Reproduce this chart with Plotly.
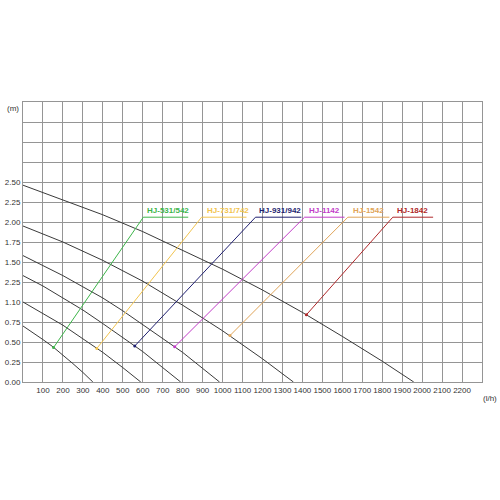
import plotly.graph_objects as go

# ---- pump curves (flow l/h -> head m) ----
c1_flow = [0, 50, 100, 150, 200, 250, 300, 350]
c1_head = [0.70, 0.62, 0.53, 0.44, 0.34, 0.23, 0.12, 0.0]

c2_flow = [0, 100, 200, 300, 400, 500, 590]
c2_head = [1.00, 0.86, 0.71, 0.54, 0.37, 0.18, 0.0]

c3_flow = [0, 100, 200, 300, 400, 500, 600, 700, 790]
c3_head = [1.33, 1.20, 1.05, 0.90, 0.73, 0.56, 0.38, 0.18, 0.0]

c4_flow = [0, 100, 200, 300, 400, 500, 600, 700, 800, 900, 985]
c4_head = [1.58, 1.46, 1.33, 1.19, 1.05, 0.89, 0.72, 0.55, 0.37, 0.17, 0.0]

c5_flow = [0, 200, 400, 600, 800, 1000, 1200, 1355]
c5_head = [1.95, 1.75, 1.52, 1.26, 0.96, 0.64, 0.29, 0.0]

c6_flow = [0, 200, 400, 600, 800, 1000, 1200, 1400, 1600, 1800, 1958]
c6_head = [2.46, 2.28, 2.09, 1.88, 1.65, 1.41, 1.15, 0.87, 0.57, 0.26, 0.0]

curves = [(c1_flow, c1_head), (c2_flow, c2_head), (c3_flow, c3_head),
          (c4_flow, c4_head), (c5_flow, c5_head), (c6_flow, c6_head)]

# ---- model labels and their leader lines ----
models = ["HJ-531/542", "HJ-731/742", "HJ-931/942", "HJ-1142", "HJ-1542", "HJ-1842"]
colors = ["#3db54a", "#f2c44e", "#1f1f70", "#c23cc8", "#e0a458", "#b0282a"]
point_flow = [153, 370, 560, 760, 1037, 1420]
point_head = [0.43, 0.42, 0.45, 0.44, 0.58, 0.84]
leader_top_flow = [603, 895, 1165, 1411, 1628, 1853]
underline_end_flow = [828, 1120, 1395, 1611, 1836, 2055]
leader_top_head = 2.06
label_flow = [611, 910, 1173, 1425, 1642, 1862]
label_head = 2.15

x_ticks = list(range(100, 2300, 100))
x_ticktext = [str(v) for v in x_ticks]
y_ticks = [0, 0.25, 0.5, 0.75, 1.0, 1.25, 1.5, 1.75, 2.0, 2.25, 2.5, 2.75, 3.0, 3.25]
y_ticktext = ["0.00", "0.25", "0.50", "0.75", "1.10", "2.25", "1.50", "1.75",
              "2.00", "2.25", "2.50", "", "", ""]

fig = go.Figure()

for fx, fy in curves:
    fig.add_trace(go.Scatter(x=fx, y=fy, mode="lines",
                             line=dict(color="#3a3a3a", width=1), hoverinfo="skip"))

for i, name in enumerate(models):
    fig.add_trace(go.Scatter(
        x=[point_flow[i], leader_top_flow[i], underline_end_flow[i]],
        y=[point_head[i], leader_top_head, leader_top_head],
        mode="lines", line=dict(color=colors[i], width=1), hoverinfo="skip"))
    fig.add_trace(go.Scatter(
        x=[point_flow[i]], y=[point_head[i]], mode="markers",
        marker=dict(color=colors[i], size=3), hoverinfo="skip"))
    fig.add_annotation(x=label_flow[i], y=label_head, xref="x", yref="y",
                       text="<b>" + name + "</b>", showarrow=False,
                       xanchor="left", yanchor="middle",
                       font=dict(size=8, color=colors[i],
                                 family="Arial, Liberation Sans, sans-serif"))

fig.add_annotation(x=-0.021, y=0.978, xref="paper", yref="paper", text="(m)",
                   showarrow=False, xanchor="center", yanchor="middle",
                   font=dict(size=8, color="#333333"))
fig.add_annotation(x=1.018, y=-0.058, xref="paper", yref="paper", text="(l/h)",
                   showarrow=False, xanchor="center", yanchor="middle",
                   font=dict(size=8, color="#333333"))

fig.update_layout(
    width=500, height=500,
    margin=dict(l=23, r=18, t=102, b=118),
    paper_bgcolor="white", plot_bgcolor="white",
    showlegend=False,
    font=dict(family="Arial, Liberation Sans, sans-serif", size=8, color="#333333"),
    xaxis=dict(range=[0, 2300], tickvals=x_ticks, ticktext=x_ticktext,
               tickangle=0, automargin=False,
               showgrid=True, gridcolor="#959595", gridwidth=1,
               showline=True, linecolor="#959595", linewidth=1, mirror=True,
               zeroline=False, ticks="", tickfont=dict(size=8, color="#333333")),
    yaxis=dict(range=[0, 3.5], tickvals=y_ticks, ticktext=y_ticktext,
               automargin=False,
               showgrid=True, gridcolor="#959595", gridwidth=1,
               showline=True, linecolor="#959595", linewidth=1, mirror=True,
               zeroline=False, ticks="", tickfont=dict(size=8, color="#333333")),
)

fig.write_html("out.html",
               config={"displayModeBar": False},
               post_script="document.body.style.margin='0px';"
                           "document.body.style.overflow='hidden';")
